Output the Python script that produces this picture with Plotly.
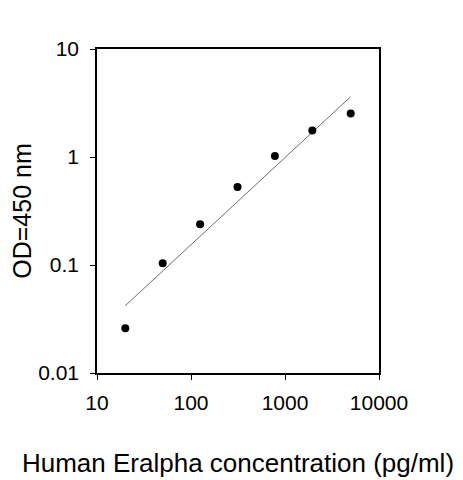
import plotly.graph_objects as go

# standard curve readings
conc = [20, 50, 125, 312.5, 781, 1953, 5000]      # pg/ml
od = [0.026, 0.104, 0.238, 0.527, 1.02, 1.76, 2.53]

# fitted trend line (power fit), end points
fit_x = [20, 5000]
fit_y = [0.042, 3.62]

xticks = [10, 100, 1000, 10000]
yticks = [0.01, 0.1, 1, 10]

font = "Liberation Sans, Arial, sans-serif"

fig = go.Figure()

fig.add_trace(go.Scatter(
    x=fit_x, y=fit_y, mode="lines",
    line=dict(color="#6e6e6e", width=1),
    hoverinfo="skip"
))

fig.add_trace(go.Scatter(
    x=conc, y=od, mode="markers",
    marker=dict(color="black", size=8),
    name="OD"
))

# page body adds an 8px offset, so margins are shifted to match
fig.update_layout(
    width=463, height=480,
    margin=dict(l=89, r=92, t=41, b=115),
    paper_bgcolor="white", plot_bgcolor="white",
    showlegend=False,
    font=dict(family=font, color="black", size=21),
    xaxis=dict(
        type="log", range=[1, 4], automargin=False,
        tickvals=xticks, ticktext=[str(v) for v in xticks],
        ticks="outside", ticklen=5, tickwidth=1, tickcolor="black",
        ticklabelstandoff=5,
        showline=True, linecolor="black", linewidth=1.5, mirror=True,
        showgrid=False, zeroline=False,
        tickfont=dict(size=21),
        title=dict(text="Human Eralpha concentration (pg/ml)",
                   font=dict(size=26), standoff=41),
    ),
    yaxis=dict(
        type="log", range=[-2, 1], automargin=False,
        tickvals=yticks, ticktext=["0.01", "0.1", "1", "10"],
        ticks="outside", ticklen=5, tickwidth=1, tickcolor="black",
        ticklabelstandoff=7,
        showline=True, linecolor="black", linewidth=1.5, mirror=True,
        showgrid=False, zeroline=False,
        tickfont=dict(size=21),
        title=dict(text="OD=450 nm", font=dict(size=25), standoff=19),
    ),
)

fig.write_html("out.html")
